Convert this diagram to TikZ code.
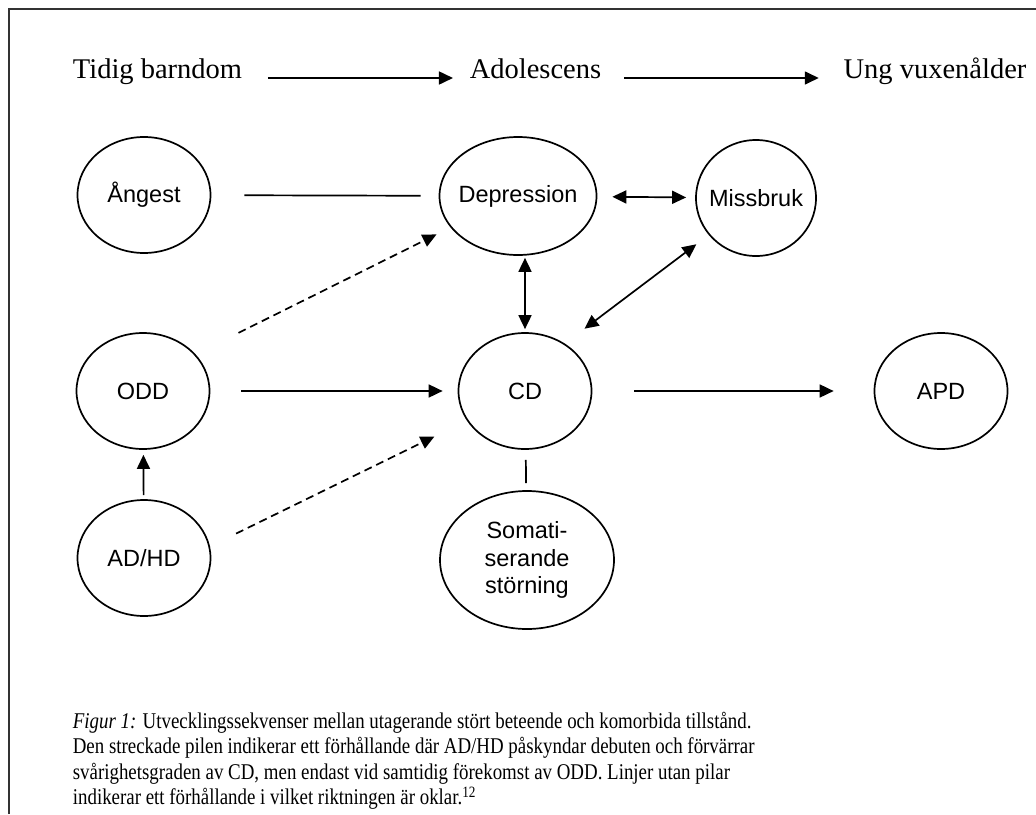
\documentclass[tikz,border=0pt]{standalone}
\usepackage{fontspec}
\setmainfont{Liberation Serif}
\newfontfamily\arialfont{Liberation Sans}
\newfontfamily\captionfont[FakeStretch=0.84]{Liberation Serif}
\usetikzlibrary{arrows.meta,shapes.geometric,positioning}

\begin{document}
\begin{tikzpicture}[x=1pt, y=-1pt, line width=1.7pt,
  >={Triangle[length=14pt, width=13pt]},
  state/.style={draw, ellipse, inner sep=0pt, inner xsep=-8pt,
    minimum width=133pt, minimum height=116pt, align=center,
    font=\arialfont\fontsize{23.5}{27.5}\selectfont},
  period/.style={inner sep=0pt, font=\fontsize{28.5}{34}\selectfont},
  dasharrow/.style={->, dash pattern=on 8pt off 5pt}]
  \useasboundingbox (0,0) rectangle (1036,814);
  \draw[line width=1.5pt, black!80] (9,814) -- (9,9) -- (1036,9);

  % time axis
  \node[period, anchor=base] (early) at (157.5,78) {Tidig barndom};
  \node[period, anchor=base] (adol) at (535.5,78) {Adolescens};
  \node[period, anchor=base] (young) at (935,78) {Ung vuxenålder};
  \draw[->, shorten <=25pt, shorten >=16pt] (early.base east) -- (adol.base west);
  \draw[->, shorten <=22pt, shorten >=24pt] (adol.base east) -- (young.base west);

  % disorders
  \node[state] (ang) at (144,195) {Ångest};
  \node[state, minimum width=157pt, minimum height=118pt] (dep) at (518,196) {Depression};
  \node[state, minimum width=120pt] (mis) at (756,198) {Missbruk};
  \node[state] (odd) at (143,391) {ODD};
  \node[state] (cd) at (525,391) {CD};
  \node[state] (apd) at (941,391) {APD};
  \node[state] (adhd) at (144,558) {AD/HD};
  \node[state, minimum width=174pt, minimum height=138pt] (som) at (527,560)
    {Somati-\\serande\\störning};

  % relations
  \draw[shorten <=33pt, shorten >=18pt] (ang) -- (dep);
  \draw[<->, shorten <=15pt, shorten >=9pt] (dep) -- (mis);
  \draw[<->, shorten <=2pt, shorten >=3pt] (cd.north |- dep.south) -- (cd.north);
  \draw[<->, shorten <=24.6pt, shorten >=15.4pt] (cd.50) -- (mis.218);
  \draw[->, shorten <=31pt, shorten >=15pt] (odd) -- (cd);
  \draw[->, shorten <=4pt, shorten >=5pt] (adhd) -- (odd);
  \draw[->, shorten <=42pt, shorten >=40pt] (cd) -- (apd);
  \draw[shorten <=10pt, shorten >=7pt] (cd) -- (som);
  \draw[dasharrow, shorten <=48pt, shorten >=15.6pt] (odd.35) -- (dep.205);
  \draw[dasharrow, shorten <=29pt, shorten >=36pt] (adhd.10) -- (cd.207);

  % caption
  \node[anchor=north west, inner sep=0pt, align=left,
    font=\captionfont\fontsize{22.5}{25.5}\selectfont] (caption) at (72,711)
    {\textit{Figur 1:} Utvecklingssekvenser mellan utagerande stört beteende och komorbida tillstånd.\\
     Den streckade pilen indikerar ett förhållande där AD/HD påskyndar debuten och förvärrar\\
     svårighetsgraden av CD, men endast vid samtidig förekomst av ODD. Linjer utan pilar\\
     indikerar ett förhållande i vilket riktningen är oklar.\textsuperscript{12}};
\end{tikzpicture}
\end{document}
